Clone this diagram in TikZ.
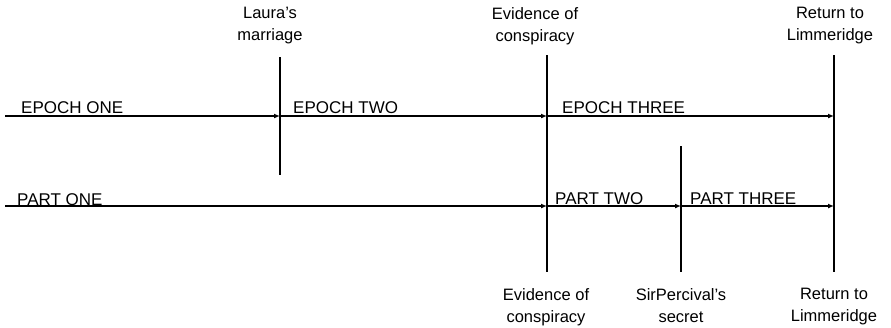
\documentclass[tikz,border=0pt]{standalone}
\usepackage{fontspec}
\setmainfont{Liberation Sans}
\usetikzlibrary{arrows.meta,positioning}

\begin{document}
\begin{tikzpicture}[x=1pt, y=-1pt,
  era/.style={anchor=base west, inner sep=0pt, font=\fontsize{17}{20}\selectfont},
  event/.style={anchor=north, align=center, inner sep=0pt, font=\fontsize{16.5}{22}\selectfont},
  arr/.style={-{Latex[length=6pt,width=5pt]}, line width=1.2pt},
  divider/.style={line width=1.2pt}
]
  \useasboundingbox (0,0) rectangle (891,327);

  \coordinate (a0) at (5,116);
  \coordinate (a1) at (280,116);
  \coordinate (a2) at (547,116);
  \coordinate (a3) at (834,116);
  \coordinate (b0) at (5,206);
  \coordinate (b1) at (547,206);
  \coordinate (b2) at (681,206);
  \coordinate (b3) at (834,206);

  \coordinate (lm-top) at (280,57);
  \coordinate (lm-bot) at (280,175);
  \coordinate (ev-top) at (547,55);
  \coordinate (ev-bot) at (547,272);
  \coordinate (sp-top) at (681,146);
  \coordinate (sp-bot) at (681,272);
  \coordinate (rl-top) at (834,55);
  \coordinate (rl-bot) at (834,272);

  \draw[divider] (lm-top) -- (lm-bot);
  \draw[divider] (ev-top) -- (ev-bot);
  \draw[divider] (sp-top) -- (sp-bot);
  \draw[divider] (rl-top) -- (rl-bot);

  \draw[arr] (a0) -- (a1);
  \draw[arr] (a1) -- (a2);
  \draw[arr] (a2) -- (a3);
  \draw[arr] (b0) -- (b1);
  \draw[arr] (b1) -- (b2);
  \draw[arr] (b2) -- (b3);

  \node[era] (ep1) at (21,113) {EPOCH ONE};
  \node[era] (ep2) at (293,113) {EPOCH TWO};
  \node[era] (ep3) at (562,113) {EPOCH THREE};
  \node[era] (pt1) at (17,205) {PART ONE};
  \node[era] (pt2) at (555,204) {PART TWO};
  \node[era] (pt3) at (690,204) {PART THREE};

  \node[event] (marriage) at (270,7) {Laura's\\marriage};
  \node[event] (evidence-top) at (535,7) {Evidence of\\conspiracy};
  \node[event] (return-top) at (830,7) {Return to\\Limmeridge};
  \node[event] (evidence-bot) at (546,288) {Evidence of\\conspiracy};
  \node[event] (secret) at (681,288) {SirPercival's\\secret};
  \node[event] (return-bot) at (834,288) {Return to\\Limmeridge};
\end{tikzpicture}
\end{document}
